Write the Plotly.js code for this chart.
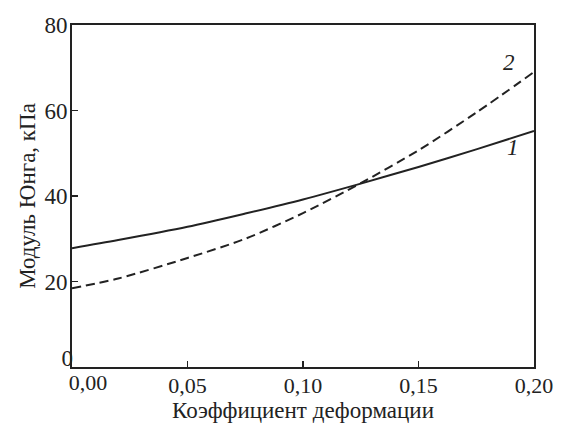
<!DOCTYPE html>
<html>
<head>
<meta charset="utf-8">
<script src="https://cdn.plot.ly/plotly-3.0.1.min.js"></script>
<style>html,body{margin:0;padding:0;background:#fff;}#chart{width:562px;height:424px;}</style>
</head>
<body>
<div id="chart"></div>
<script>
const strain = [0, 0.02, 0.05, 0.075, 0.10, 0.125, 0.15, 0.175, 0.20];
const curve1 = [27.8, 29.7, 32.8, 35.9, 39.2, 42.9, 46.8, 50.9, 55.2];
const curve2 = [18.4, 20.7, 25.5, 30.0, 36.0, 43.0, 50.7, 59.5, 69.0];
const xTicks = [0.05, 0.10, 0.15, 0.20];
const xOriginTick = [0];
const yTicks = [20, 40, 60, 80];
const yOriginTick = [0];
const curveLabels = ['1', '2'];
const labelX = [0.191, 0.189];
const labelY = [51.3, 71.3];

const fam = 'Liberation Serif, DejaVu Serif, serif';
const fs = 23;
const col = '#222';

const traces = [
  {x: strain, y: curve1, mode: 'lines', line: {color: col, width: 2, shape: 'spline', smoothing: 0.8}, hoverinfo: 'skip'},
  {x: strain, y: curve2, xaxis: 'x2', yaxis: 'y2', mode: 'lines', line: {color: col, width: 2, dash: '9px,5px', shape: 'spline', smoothing: 0.8}, hoverinfo: 'skip'}
];

const layout = {
  width: 562, height: 424,
  margin: {l: 72, r: 28, t: 25, b: 57},
  paper_bgcolor: '#fff', plot_bgcolor: '#fff',
  showlegend: false,
  separators: ', ',
  font: {family: fam, size: fs, color: col},
  xaxis: {
    range: [0, 0.20], tickvals: xTicks, tickformat: '.2f',
    ticks: 'inside', ticklen: 6, tickwidth: 1.5, tickcolor: col,
    showline: true, linecolor: col, linewidth: 2, mirror: true,
    showgrid: false, zeroline: false,
    ticklabelstandoff: -2,
    tickfont: {family: fam, size: 22, color: col},
    title: {text: 'Коэффициент деформации', font: {family: fam, size: fs, color: col}, standoff: 4}
  },
  xaxis2: {
    overlaying: 'x', anchor: 'y2', side: 'bottom',
    range: [0, 0.20], tickvals: xOriginTick, tickformat: '.2f',
    ticks: '', showline: false, showgrid: false, zeroline: false,
    ticklabelstandoff: 0, ticklabelshift: 16,
    tickfont: {family: fam, size: 22, color: col}
  },
  yaxis: {
    range: [0, 80], tickvals: yTicks,
    ticks: 'inside', ticklen: 6, tickwidth: 1.5, tickcolor: col,
    showline: true, linecolor: col, linewidth: 2, mirror: true,
    showgrid: false, zeroline: false,
    ticklabelstandoff: -2,
    tickfont: {family: fam, size: fs, color: col},
    title: {text: 'Модуль Юнга, кПа', font: {family: fam, size: fs, color: col}, standoff: 2}
  },
  yaxis2: {
    overlaying: 'y', anchor: 'x2', side: 'left',
    range: [0, 80], tickvals: yOriginTick,
    ticks: '', showline: false, showgrid: false, zeroline: false,
    ticklabelstandoff: -2, ticklabelshift: -9,
    tickfont: {family: fam, size: fs, color: col}
  },
  annotations: curveLabels.map((t, i) => ({
    x: labelX[i], y: labelY[i], xref: 'x', yref: 'y', text: '<i>' + t + '</i>',
    showarrow: false, font: {family: fam, size: fs, color: col}
  }))
};

Plotly.newPlot('chart', traces, layout, {displayModeBar: false, staticPlot: true});
</script>
</body>
</html>
